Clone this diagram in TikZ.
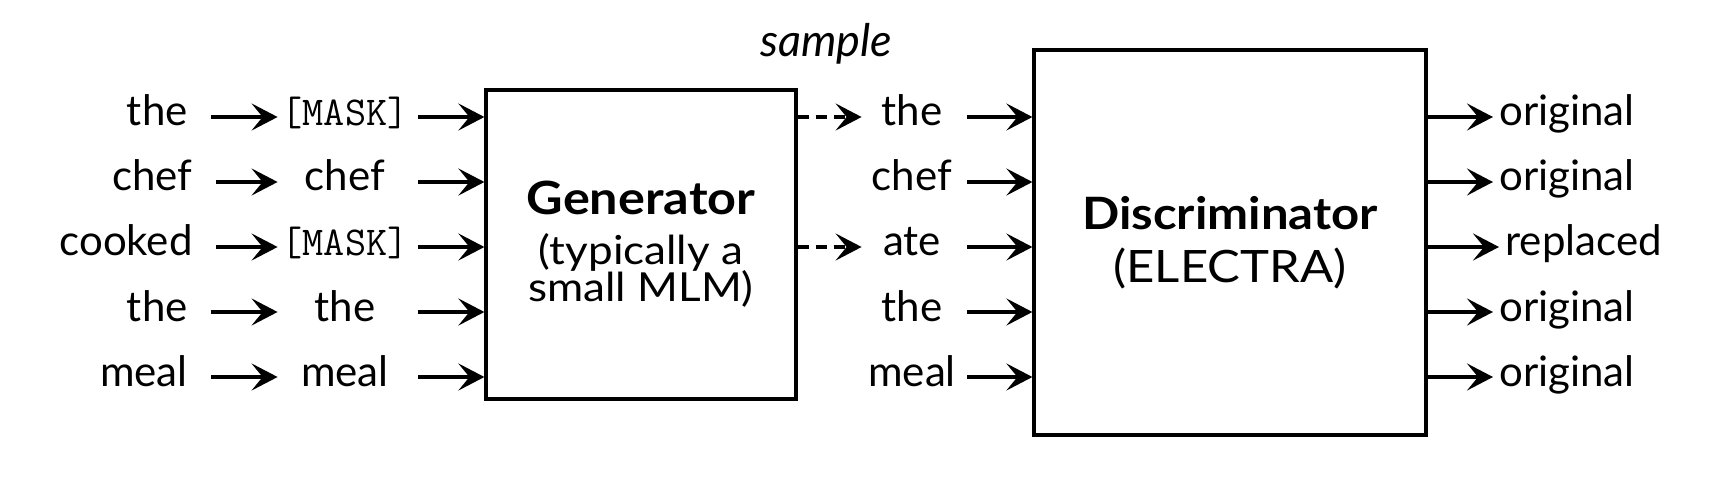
\documentclass[tikz,border=0pt]{standalone}
\usepackage{fontspec}
\setmainfont{Lato}
\newfontfamily\boxfont{Lato}[FakeStretch=1.1]
\usetikzlibrary{arrows.meta}
\newcommand{\maskword}{{\fontsize{20.5}{24}\selectfont\ttfamily\addfontfeature{FakeBold=1}[MASK]}}
\begin{document}
\begin{tikzpicture}[x=0.5pt,y=-0.5pt,
  word/.style={inner sep=0pt, font=\fontsize{21}{24}\selectfont, text height=12pt, text depth=3pt},
  lword/.style={word, text width=70pt, align=right, anchor=east},
  mword/.style={word, minimum width=67pt},
  cword/.style={word, minimum width=50pt},
  rword/.style={word, anchor=west},
  box/.style={draw, line width=1.6pt, inner sep=0pt, align=center},
  arr/.style={-{Stealth[length=13pt,width=13.5pt,inset=5.5pt]}, line width=1.6pt},
  darr/.style={arr, dash pattern=on 5.5pt off 3.5pt}
]
\useasboundingbox (0,0) rectangle (1728,486);

% left words
\node[lword] (l1) at (188,117) {the};
\node[lword] (l2) at (193,182) {chef};
\node[lword] (l3) at (193,247) {cooked};
\node[lword] (l4) at (188,312) {the};
\node[lword] (l5) at (188,377) {meal};

% masked inputs
\node[mword] (m1) at (345,117) {\maskword};
\node[mword] (m2) at (345,182) {chef};
\node[mword] (m3) at (345,247) {\maskword};
\node[mword] (m4) at (345,312) {the};
\node[mword] (m5) at (345,377) {meal};

% generator
\node[box, minimum width=155pt, minimum height=154.5pt,
      font={\boxfont\fontsize{20}{18.5}\selectfont\lineskiplimit=-30pt}] (gen) at (641,244.5)
  {{\fontsize{22.9}{18.5}\selectfont\bfseries Generator}\\[6.5pt]
   (typically a\\
   small MLM)};

% sampled tokens
\node[cword] (c1) at (912,117) {the};
\node[cword] (c2) at (912,182) {chef};
\node[cword] (c3) at (912,247) {ate};
\node[cword] (c4) at (912,312) {the};
\node[cword] (c5) at (912,377) {meal};

\node[font=\fontsize{22.5}{26}\selectfont\itshape, inner sep=0pt] (smp) at (826,44) {sample};

% discriminator
\node[box, minimum width=196pt, minimum height=192.5pt,
      font={\boxfont\fontsize{22.3}{26.5}\selectfont\lineskiplimit=-30pt}] (dis) at (1230,242.5)
  {{\bfseries Discriminator}\\
   (ELECTRA)};

% outputs
\node[rword] (o1) at (1499,117) {original};
\node[rword] (o2) at (1499,182) {original};
\node[rword] (o3) at (1505,247) {replaced};
\node[rword] (o4) at (1499,312) {original};
\node[rword] (o5) at (1499,377) {original};

% arrows
\foreach \i in {1,...,5} {
  \draw[arr, shorten <=11.5pt] (l\i) -- (m\i);
  \draw[arr, shorten <=3pt] (m\i.east) -- (m\i.east -| gen.west);
  \draw[arr, shorten <=2.5pt] (c\i.east) -- (c\i.east -| dis.west);
  \draw[arr, shorten >=3pt] (o\i.west -| dis.east) -- (o\i.west);
}
\draw[darr] (c1.west -| gen.east) -- (c1.west);
\draw[darr] (c3.west -| gen.east) -- (c3.west);
\end{tikzpicture}
\end{document}
